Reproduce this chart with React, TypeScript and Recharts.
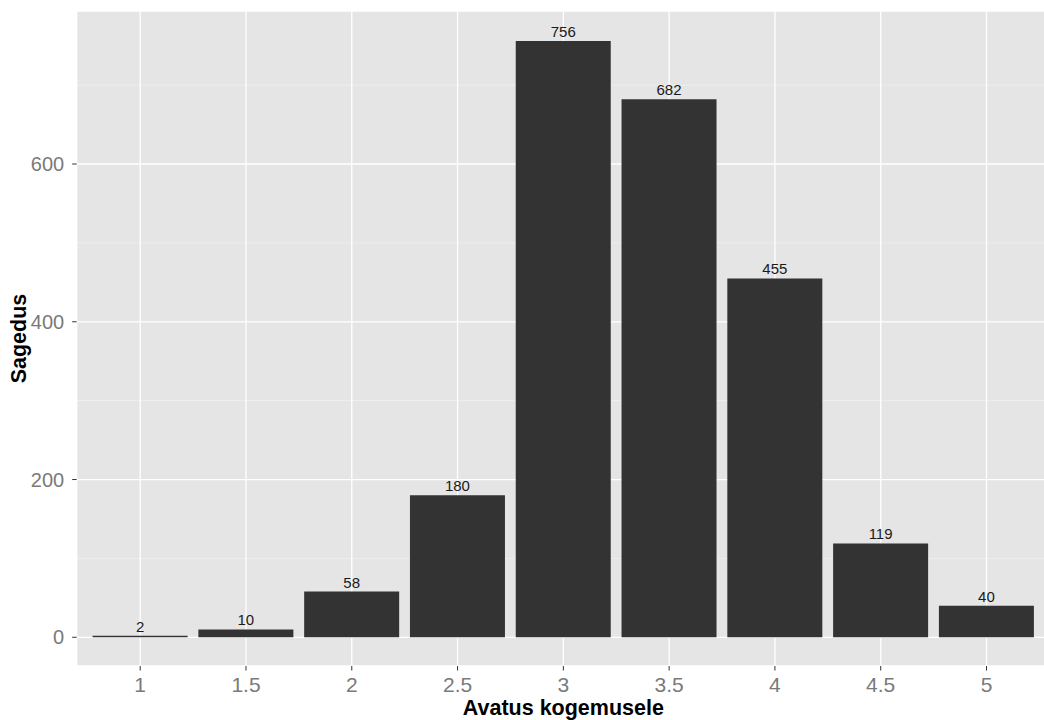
import React from 'react'
import { BarChart, Bar, XAxis, YAxis, CartesianGrid, LabelList, Label } from 'recharts'

const categories = ['1', '1.5', '2', '2.5', '3', '3.5', '4', '4.5', '5']
const counts = [2, 10, 58, 180, 756, 682, 455, 119, 40]
const yTicks = [0, 200, 400, 600]
const yMinorTicks = [100, 300, 500, 700]
const yDomain: [number, number] = [-36.4, 794]

const data = categories.map((c, i) => ({ hinne: c, sagedus: counts[i] }))

const FONT = '"Liberation Sans", Arial, sans-serif'

// ggplot draws minor breaks between the labelled ones
function minorLines(props: any) {
  const { yAxis, offset } = props
  const s = yAxis && yAxis.scale
  if (typeof s === 'function') return yMinorTicks.map((v) => s(v))
  const [lo, hi] = yDomain
  return yMinorTicks.map((v) => offset.top + (offset.height * (hi - v)) / (hi - lo))
}

function YTitle(props: any) {
  const vb = props.viewBox || {}
  const x = vb.x + 19
  const y = vb.y + vb.height / 2
  return (
    <text
      x={x}
      y={y}
      transform={`rotate(-90, ${x}, ${y})`}
      textAnchor="middle"
      dominantBaseline="central"
      fontSize={21.5}
      fontWeight="bold"
      fill="#000"
      fontFamily={FONT}
    >
      Sagedus
    </text>
  )
}

export default function App() {
  return (
    <div style={{ width: 1044, height: 720, overflow: 'hidden', fontFamily: FONT, background: '#fff' }}>
      <style>{'body{margin:0}'}</style>
      <BarChart
        width={1050}
        height={720}
        data={data}
        margin={{ top: 11, right: 0, bottom: 0, left: 0 }}
        barCategoryGap="5%"
      >
        <CartesianGrid
          fill="#E5E5E5"
          stroke="#F2F2F2"
          strokeWidth={0.7}
          vertical={false}
          horizontalCoordinatesGenerator={minorLines}
        />
        <CartesianGrid stroke="#FFFFFF" strokeWidth={1.3} />
        <XAxis
          dataKey="hinne"
          height={54}
          padding={{ left: 10.6, right: 10.6 }}
          axisLine={false}
          tickSize={4.5}
          tickMargin={7}
          tickLine={{ stroke: '#333333' }}
          tick={{ fill: '#7A7A7A', fontSize: 21 }}
          interval={0}
        >
          <Label
            value="Avatus kogemusele"
            position="insideBottom"
            offset={5}
            fontSize={21.5}
            fontWeight="bold"
            fill="#000"
          />
        </XAxis>
        <YAxis
          type="number"
          width={76.7}
          domain={yDomain}
          allowDataOverflow
          ticks={yTicks}
          axisLine={false}
          tickSize={4.5}
          tickMargin={8}
          tickLine={{ stroke: '#333333' }}
          tick={{ fill: '#7A7A7A', fontSize: 20 }}
        >
          <Label content={YTitle} />
        </YAxis>
        <Bar dataKey="sagedus" fill="#333333" isAnimationActive={false}>
          <LabelList dataKey="sagedus" position="top" offset={4} fill="#1A1A1A" fontSize={15} />
        </Bar>
      </BarChart>
    </div>
  )
}
